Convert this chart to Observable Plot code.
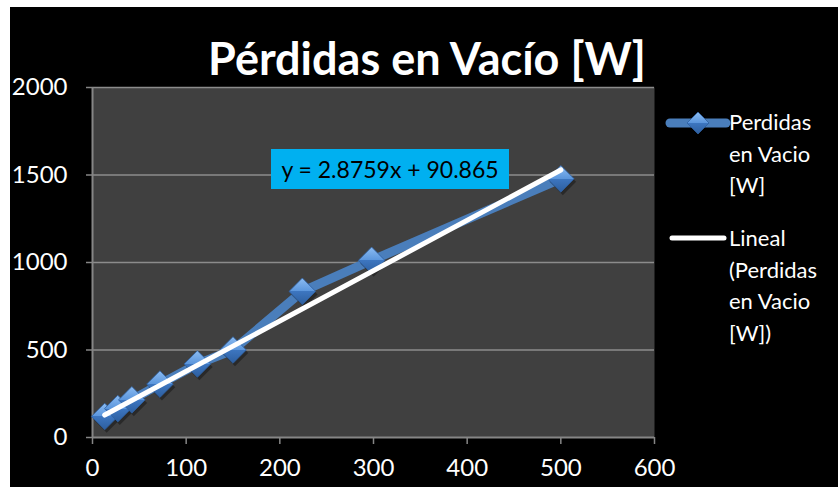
<!DOCTYPE html>
<html>
<head>
<meta charset="utf-8">
<script src="https://cdn.jsdelivr.net/npm/d3@7"></script>
<script src="https://cdn.jsdelivr.net/npm/@observablehq/plot@0.6"></script>
<style>
  html, body { margin: 0; padding: 0; background: #ffffff; }
  #wrap { position: relative; width: 838px; height: 487px; overflow: hidden; font-family: Lato, "Open Sans", sans-serif; }
  #chart { position: absolute; left: 10px; top: 7px; }
  #title { position: absolute; left: 10px; width: 834px; top: 32px; text-align: center; color: #fff; font-weight: 700; font-size: 45px; line-height: 52px; }
  #eq { position: absolute; left: 271px; top: 149px; width: 238px; height: 40px; background: #00b0f0; color: #000; font-size: 23px; line-height: 40px; text-align: center; }
  .leg { position: absolute; left: 729px; color: #fff; font-size: 22px; line-height: 31.5px; }
  .sw { position: absolute; }
</style>
</head>
<body>
<div id="wrap">
  <div id="chart"></div>
  <div id="title"></div>
  <div id="eq"></div>
  <svg class="sw" style="left:664px;top:110px" width="68" height="28">
    <defs>
      <linearGradient id="lg" x1="0" y1="0" x2="0" y2="1">
        <stop offset="0" stop-color="#8cbcf2"/><stop offset="0.5" stop-color="#5a95dc"/><stop offset="0.5" stop-color="#3d76c0"/><stop offset="1" stop-color="#2d5e9e"/>
      </linearGradient>
    </defs>
    <line x1="6" y1="13" x2="62" y2="13" stroke="#4a7ebb" stroke-width="9" stroke-linecap="round"/>
    <path d="M34,2 L45,13 L34,24 L23,13 Z" fill="url(#lg)" stroke="#2d5e9e" stroke-width="0.8"/>
  </svg>
  <svg class="sw" style="left:664px;top:228px" width="68" height="20">
    <line x1="8" y1="10" x2="60" y2="10" stroke="#ffffff" stroke-width="5" stroke-linecap="round"/>
  </svg>
  <div class="leg" id="leg1" style="top:106px"></div>
  <div class="leg" id="leg2" style="top:222px"></div>
</div>
<script>
// ---- data ----
const titleText = "Pérdidas en Vacío [W]";
const seriesName = "Perdidas en Vacio [W]";
const trendName = "Lineal (Perdidas en Vacio [W])";
const xValues = [13, 27, 42, 72, 112, 150, 224, 298, 500];
const yValues = [120, 165, 215, 305, 420, 500, 835, 1012, 1478];
const trendSlope = 2.8759;
const trendIntercept = 90.865;
const xTicks = [0, 100, 200, 300, 400, 500, 600];
const yTicks = [0, 500, 1000, 1500, 2000];

// ---- build ----
document.getElementById("title").textContent = titleText;
document.getElementById("eq").textContent = `y = ${trendSlope}x + ${trendIntercept}`;
document.getElementById("leg1").innerHTML = "Perdidas<br>en Vacio<br>[W]";
document.getElementById("leg2").innerHTML = "Lineal<br>(Perdidas<br>en Vacio<br>[W])";

const data = xValues.map((x, i) => ({x, y: yValues[i]}));
const xMin = d3.min(xValues), xMax = d3.max(xValues);
const trend = [xMin, xMax].map(x => ({x, y: trendSlope * x + trendIntercept}));

const plot = Plot.plot({
  width: 828,
  height: 480,
  marginLeft: 82,
  marginTop: 80,
  marginBottom: 50,
  marginRight: 184,
  style: {background: "#000000", color: "#ffffff", fontFamily: "Lato, 'Open Sans', sans-serif", overflow: "visible"},
  x: {domain: [0, 600], label: null},
  y: {domain: [0, 2000], label: null},
  marks: [
    Plot.frame({fill: "#404040", stroke: null}),
    Plot.ruleY(yTicks.filter(d => d > 0), {stroke: "#8c8c8c", strokeWidth: 1.5}),
    Plot.ruleX([0], {stroke: "#868686", strokeWidth: 2}),
    Plot.ruleY([0], {stroke: "#868686", strokeWidth: 2}),
    Plot.axisY({ticks: yTicks, tickSize: 6, tickPadding: 19, stroke: "#868686", strokeWidth: 1.5, fill: "#ffffff", fontSize: 24, tickFormat: d => String(d)}),
    Plot.axisX({ticks: xTicks, tickSize: 7, tickPadding: 14, stroke: "#868686", strokeWidth: 1.5, fill: "#ffffff", fontSize: 24, tickFormat: d => String(d)}),
    Plot.line(data, {x: "x", y: "y", stroke: "#4a7ebb", strokeWidth: 9, strokeLinejoin: "round", strokeLinecap: "round"}),
    Plot.dot(data, {x: "x", y: "y", symbol: "diamond2", r: 12, fill: "#000000", fillOpacity: 0.35, stroke: null, dx: 2, dy: 3}),
    Plot.dot(data, {x: "x", y: "y", symbol: "diamond2", r: 12, fill: "url(#dg)", stroke: "#2d5e9e", strokeWidth: 0.8}),
    Plot.line(trend, {x: "x", y: "y", stroke: "#ffffff", strokeWidth: 5, strokeLinecap: "round"})
  ]
});
d3.select(plot).insert("defs", ":first-child").html(
  '<linearGradient id="dg" x1="0" y1="0" x2="0" y2="1">' +
  '<stop offset="0" stop-color="#8cbcf2"/><stop offset="0.5" stop-color="#5a95dc"/>' +
  '<stop offset="0.5" stop-color="#3d76c0"/><stop offset="1" stop-color="#2d5e9e"/></linearGradient>'
);
document.getElementById("chart").appendChild(plot);
</script>
</body>
</html>
